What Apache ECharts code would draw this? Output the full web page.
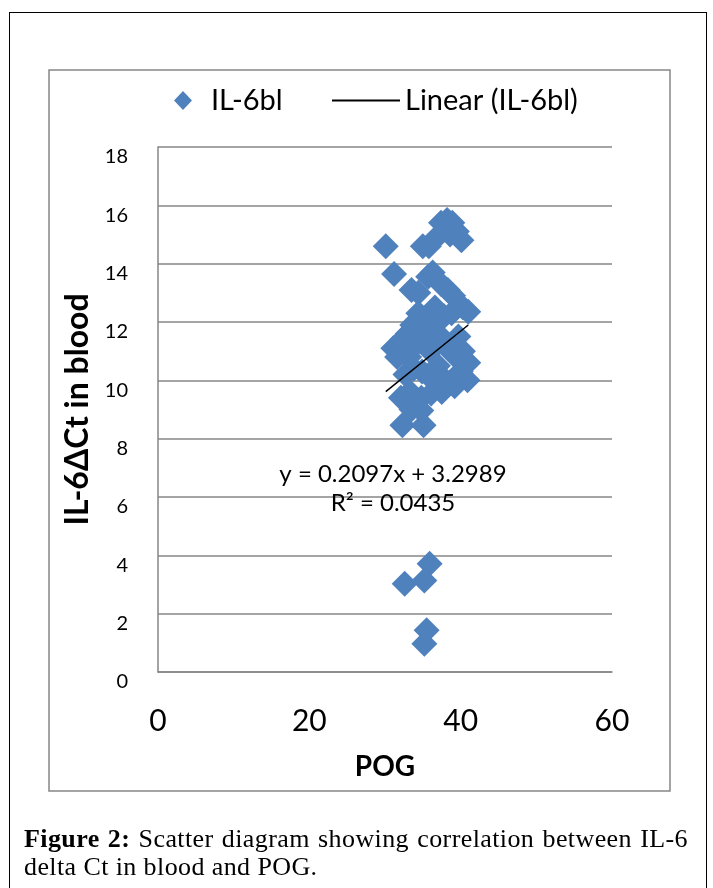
<!DOCTYPE html>
<html><head><meta charset="utf-8">
<script src="https://cdn.jsdelivr.net/npm/echarts@6/dist/echarts.min.js"></script>
<style>
html,body{margin:0;padding:0;background:#fff;}
#wrap{position:relative;width:713px;height:888px;overflow:hidden;background:#fff;}
#chart{position:absolute;left:0;top:0;width:713px;height:888px;}
#outer{position:absolute;left:9px;top:12px;width:698px;height:900px;border:1px solid #000;box-sizing:border-box;pointer-events:none;}
#caption{position:absolute;left:24px;top:825px;width:664px;font-family:'Liberation Serif',serif;font-size:26px;line-height:28px;letter-spacing:0.4px;color:#000;}
#caption .l1{text-align:justify;text-align-last:justify;white-space:nowrap;}
#caption b{font-weight:bold;}
</style>
</head><body>
<div id="wrap">
<div id="chart"></div>
<div id="outer"></div>
<div id="caption"><div class="l1"><b>Figure 2:</b> Scatter diagram showing correlation between IL-6</div><div>delta Ct in blood and POG.</div></div>
</div>
<script>
// ---- data ----
const seriesName = 'IL-6bl';
const trendName = 'Linear (IL-6bl)';
const xTicks = [0, 20, 40, 60];
const yTicks = [0, 2, 4, 6, 8, 10, 12, 14, 16, 18];
const pogValues = [30.1, 31.2, 35.0, 35.8, 36.6, 37.4, 38.2, 38.9, 38.6, 40.1, 39.5,
  35.7, 36.3, 33.5, 34.4, 38.3, 37.4, 39.0, 40.3, 41.0, 34.4, 36.6, 37.8, 35.5,
  33.0, 31.1, 31.6, 32.3, 34.0, 35.0, 36.0, 37.0, 38.0, 39.7, 39.0, 41.0, 40.3,
  32.7, 33.8, 34.9, 36.0, 37.0, 38.0, 40.9, 39.2, 40.0, 37.2,
  32.1, 33.3, 34.8, 36.1, 34.8, 32.3, 35.1, 33.5,
  32.0, 33.2, 36.8, 38.8, 37.5, 33.6,
  32.6, 35.9, 35.2, 35.5, 35.2];
const ctValues = [14.6, 13.65, 14.6, 14.6, 14.85, 15.4, 15.5, 15.4, 15.0, 14.8, 15.1,
  13.55, 13.7, 13.1, 13.0, 13.1, 13.3, 12.9, 12.5, 12.35, 12.3, 12.5, 12.2, 12.0,
  11.6, 11.1, 10.8, 11.4, 11.2, 11.5, 11.0, 11.6, 11.3, 11.5, 10.9, 10.6, 11.0,
  10.2, 10.4, 10.3, 10.1, 10.5, 10.0, 10.0, 9.8, 10.3, 9.8,
  9.4, 9.6, 9.4, 9.55, 8.97, 8.46, 8.46, 9.0,
  11.0, 10.8, 12.0, 12.3, 9.6, 11.9,
  3.03, 3.71, 3.14, 1.43, 0.97];
const trendCoef = [0.2097, 3.2989]; // slope, intercept (from the chart's equation)
const rSquared = '0.0435';

// ---- build ----
const points = pogValues.map((x, i) => [x, ctValues[i]]);
const xMin = Math.min(...pogValues), xMax = Math.max(...pogValues);
const trend = [[xMin, trendCoef[0] * xMin + trendCoef[1]], [xMax, trendCoef[0] * xMax + trendCoef[1]]];
const eqText = 'y = ' + trendCoef[0] + 'x + ' + trendCoef[1] + '\nR\u00B2 = ' + rSquared;

const FONT = 'Lato';
const grey = '#868686';
const chart = echarts.init(document.getElementById('chart'), null, {renderer: 'canvas'});
chart.setOption({
  animation: false,
  backgroundColor: 'transparent',
  textStyle: {fontFamily: FONT},
  grid: {left: 158, top: 147, right: 101, bottom: 216, containLabel: false, outerBoundsMode: 'none'},
  legend: [
    {data: [{name: seriesName, icon: 'diamond'}], left: 174, top: 86, padding: 0, itemWidth: 18, itemHeight: 19,
     selectedMode: false,
     textStyle: {fontFamily: FONT, fontSize: 29, color: '#000', padding: [0, 0, 0, 14]}},
    {data: [{name: trendName, icon: 'rect'}], left: 332, top: 86, padding: 0, itemWidth: 68, itemHeight: 2,
     selectedMode: false,
     textStyle: {fontFamily: FONT, fontSize: 29, color: '#000'}}
  ],
  xAxis: {
    type: 'value', min: xTicks[0], max: xTicks[xTicks.length - 1], interval: xTicks[1] - xTicks[0],
    name: 'POG', nameLocation: 'middle', nameGap: 81,
    nameTextStyle: {fontFamily: FONT, fontSize: 28, fontWeight: 'bold', color: '#000'},
    axisLine: {show: true, lineStyle: {color: grey, width: 1.5}},
    axisTick: {show: false}, splitLine: {show: false},
    axisLabel: {fontFamily: FONT, fontSize: 30, color: '#000', margin: 34}
  },
  yAxis: {
    type: 'value', min: yTicks[0], max: yTicks[yTicks.length - 1], interval: yTicks[1] - yTicks[0],
    name: 'IL-6\u0394Ct in blood', nameLocation: 'middle', nameGap: 64, nameRotate: 90,
    nameTextStyle: {fontFamily: FONT, fontSize: 32, fontWeight: 'bold', color: '#000'},
    axisLine: {show: true, lineStyle: {color: grey, width: 1.5}},
    axisTick: {show: false},
    splitLine: {show: true, lineStyle: {color: grey, width: 1.5}},
    axisLabel: {fontFamily: FONT, fontSize: 20, color: '#000', margin: 30, verticalAlign: 'top'}
  },
  series: [
    {name: seriesName, type: 'scatter', data: points, symbol: 'diamond', symbolSize: 26,
     itemStyle: {color: '#4F81BD', opacity: 1}, z: 2, silent: true},
    {name: trendName, type: 'line', data: trend, symbol: 'none', showSymbol: false,
     lineStyle: {color: '#000', width: 1.5}, itemStyle: {color: '#000'}, z: 3, silent: true}
  ],
  graphic: [
    {type: 'rect', shape: {x: 49, y: 70, width: 621, height: 721},
     style: {fill: 'none', stroke: grey, lineWidth: 1.5}, silent: true, z: 0},
    {type: 'text', x: 393, y: 489, z: 10,
     style: {text: eqText, font: '24px Lato', fill: '#000', align: 'center', verticalAlign: 'middle', lineHeight: 29}}
  ]
});
</script>
</body></html>
